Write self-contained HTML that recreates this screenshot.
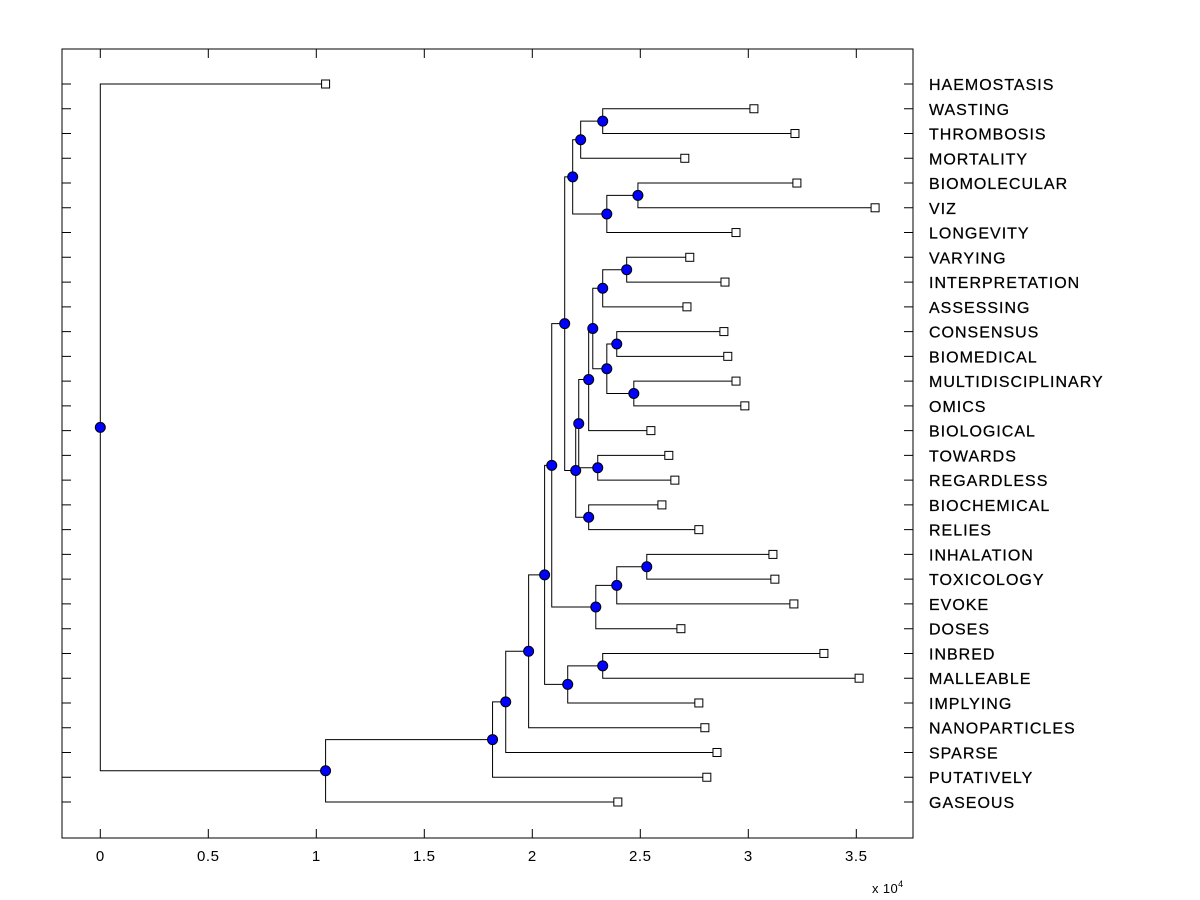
<!DOCTYPE html>
<html><head><meta charset="utf-8"><style>
body{margin:0;background:#fff;}
svg{display:block;font-family:"Liberation Sans",Arial,sans-serif;}
</style></head><body>
<svg id="chart" width="1200" height="900" viewBox="0 0 1200 900"></svg>
<script>
const labels=["HAEMOSTASIS","WASTING","THROMBOSIS","MORTALITY","BIOMOLECULAR","VIZ","LONGEVITY","VARYING","INTERPRETATION","ASSESSING","CONSENSUS","BIOMEDICAL","MULTIDISCIPLINARY","OMICS","BIOLOGICAL","TOWARDS","REGARDLESS","BIOCHEMICAL","RELIES","INHALATION","TOXICOLOGY","EVOKE","DOSES","INBRED","MALLEABLE","IMPLYING","NANOPARTICLES","SPARSE","PUTATIVELY","GASEOUS"];
const leafValues=[1.043,3.026,3.216,2.706,3.225,3.587,2.943,2.729,2.892,2.716,2.887,2.905,2.943,2.984,2.549,2.632,2.660,2.600,2.771,3.114,3.123,3.211,2.688,3.350,3.513,2.771,2.799,2.855,2.808,2.396];
// internal nodes numbered from 30 upward
const nodeLeft=[19,30,31,23,33,1,35,4,37,36,7,40,10,12,42,41,45,15,46,17,48,39,51,52,53,54,55,56,0];
const nodeRight=[20,21,22,24,25,2,3,5,6,38,8,9,11,13,43,44,14,16,47,18,49,50,32,34,26,27,28,29,57];
const nodeHeights=[2.530,2.391,2.294,2.326,2.164,2.326,2.224,2.489,2.345,2.187,2.437,2.326,2.391,2.470,2.345,2.280,2.261,2.303,2.215,2.261,2.201,2.150,2.090,2.057,1.983,1.877,1.816,1.043,0];
const xTicks=[0,0.5,1,1.5,2,2.5,3,3.5];
const xTickLabels=["0","0.5","1","1.5","2","2.5","3","3.5"];

const svg=document.getElementById('chart');
const NS='http://www.w3.org/2000/svg';
const L=62,R=913,T=49,B=838;
const xS=v=>100.3+v*216;
const yS=i=>84+i*(802-84)/29;
function mk(tag,attrs){const e=document.createElementNS(NS,tag);for(const k in attrs)e.setAttribute(k,attrs[k]);svg.appendChild(e);return e;}

const frame=mk('rect',{x:L,y:T,width:R-L,height:B-T,fill:'none',stroke:'#000','stroke-width':1});



xTicks.forEach((t,i)=>{
  const x=xS(t);
  const tk=mk('path',{d:`M${x},${B}V${B-9}M${x},${T}V${T+9}`,stroke:'#000','stroke-width':1});
  
  
  const tx=mk('text',{x:x,y:861,'text-anchor':'middle','font-size':15,'letter-spacing':0.6});
  tx.textContent=xTickLabels[i];
  
  
});
const ex=mk('text',{x:872,y:893,'font-size':13,'letter-spacing':0.4});
ex.innerHTML='x 10<tspan dy="-6" font-size="9">4</tspan>';



labels.forEach((lab,i)=>{
  const y=yS(i);
  const tk=mk('path',{d:`M${L},${y}H${L+9}M${R},${y}H${R-9}`,stroke:'#000','stroke-width':1});
  
  
  const tx=mk('text',{x:929,y:y+6,'font-size':16,'letter-spacing':1,stroke:'#000','stroke-width':0.25});
  tx.textContent=lab;
  
  
});

const N=labels.length;
const pos={};
for(let i=0;i<N;i++)pos[i]={x:xS(leafValues[i]),y:yS(i)};
for(let k=0;k<nodeHeights.length;k++){
  const a=pos[nodeLeft[k]],b=pos[nodeRight[k]];
  pos[N+k]={x:xS(nodeHeights[k]),y:(a.y+b.y)/2};
}
for(let k=0;k<nodeHeights.length;k++){
  const p=pos[N+k],a=pos[nodeLeft[k]],b=pos[nodeRight[k]];
  const br=mk('path',{d:`M${a.x},${a.y}H${p.x}V${b.y}H${b.x}`,fill:'none',stroke:'#000','stroke-width':1});
  
  
}
for(let i=0;i<N;i++){
  const p=pos[i];
  const m=mk('rect',{x:p.x-4,y:p.y-4,width:8,height:8,fill:'#fff',stroke:'#000','stroke-width':1});
  
  
}
for(let k=0;k<nodeHeights.length;k++){
  const p=pos[N+k];
  const c=mk('circle',{cx:p.x,cy:p.y,r:5,fill:'#0000ff',stroke:'#000','stroke-width':1});
  
  
}
</script>
</body></html>
